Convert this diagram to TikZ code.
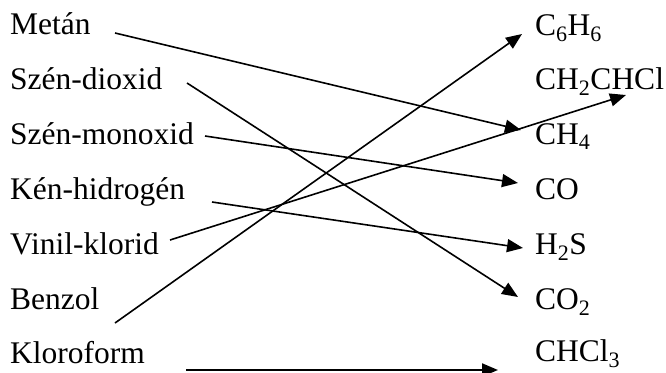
\documentclass[tikz,border=0pt]{standalone}
\usepackage{fontspec}
\setmainfont{Liberation Serif}
\usetikzlibrary{arrows.meta}
\begin{document}
\begin{tikzpicture}[x=1pt,y=-1pt,
  lbl/.style={anchor=base west,inner sep=0pt,font=\fontsize{31.5}{38}\selectfont},
  conn/.style={line width=1.6pt,-{Triangle[length=16pt,width=13pt]}}]
\useasboundingbox (0,0) rectangle (666,372);
% left labels
\node[lbl] (metan) at (10,34) {Metán};
\node[lbl] (szd) at (10,89) {Szén-dioxid};
\node[lbl] (szm) at (10,144) {Szén-monoxid};
\node[lbl] (ken) at (10,199) {Kén-hidrogén};
\node[lbl] (vin) at (10,254) {Vinil-klorid};
\node[lbl] (ben) at (10,309) {Benzol};
\node[lbl] (klo) at (10,363) {Kloroform};
% right labels
\node[lbl] (c6h6) at (535,35) {C\textsubscript{6}H\textsubscript{6}};
\node[lbl] (vcl) at (535,89) {CH\textsubscript{2}CHCl};
\node[lbl] (ch4) at (535,144) {CH\textsubscript{4}};
\node[lbl] (co) at (535,199) {CO};
\node[lbl] (h2s) at (535,254) {H\textsubscript{2}S};
\node[lbl] (co2) at (535,309) {CO\textsubscript{2}};
\node[lbl] (chcl3) at (535,361) {CHCl\textsubscript{3}};
% connector end points
\coordinate (s1) at (115,33);  \coordinate (e1) at (521,130);
\coordinate (s2) at (187,83);  \coordinate (e2) at (518,297);
\coordinate (s3) at (205,136); \coordinate (e3) at (518,183);
\coordinate (s4) at (212,202); \coordinate (e4) at (523,248);
\coordinate (s5) at (170,240); \coordinate (e5) at (626,95);
\coordinate (s6) at (115,323); \coordinate (e6) at (522,34);
\coordinate (s7) at (186,370); \coordinate (e7) at (498,370);
\draw[conn] (s1) -- (e1);
\draw[conn] (s2) -- (e2);
\draw[conn] (s3) -- (e3);
\draw[conn] (s4) -- (e4);
\draw[conn] (s5) -- (e5);
\draw[conn] (s6) -- (e6);
\draw[conn,line width=2.2pt] (s7) -- (e7);
\end{tikzpicture}
\end{document}
